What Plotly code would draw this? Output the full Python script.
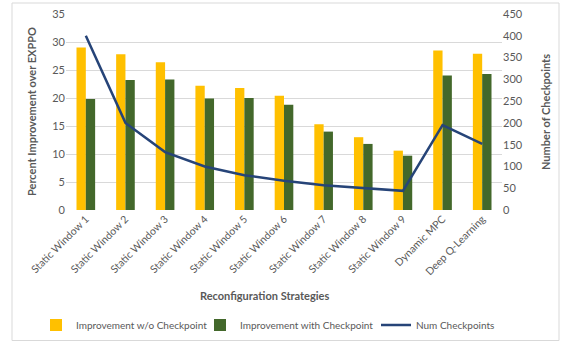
import plotly.graph_objects as go

categories = ["Static Window 1", "Static Window 2", "Static Window 3", "Static Window 4",
              "Static Window 5", "Static Window 6", "Static Window 7", "Static Window 8",
              "Static Window 9", "Dynamic MPC", "Deep Q-Learning"]
improve_wo = [29.0, 27.8, 26.4, 22.2, 21.8, 20.4, 15.3, 13.0, 10.6, 28.5, 27.9]
improve_with = [19.8, 23.2, 23.3, 19.9, 20.0, 18.8, 14.0, 11.8, 9.7, 24.0, 24.3]
num_checkpoints = [400, 200, 133, 100, 80, 67, 57, 50, 44, 195, 152]

FONT = "Lato"
GRAY = "#595959"

fig = go.Figure()
fig.add_trace(go.Bar(x=categories, y=improve_wo, name="Improvement w/o Checkpoint",
                     marker=dict(color="#FFC000", line=dict(width=0)), legend="legend"))
fig.add_trace(go.Bar(x=categories, y=improve_with, name="Improvement with Checkpoint",
                     marker=dict(color="#43682B", line=dict(width=0)), legend="legend2"))
fig.add_trace(go.Scatter(x=categories, y=num_checkpoints, name="Num Checkpoints",
                         mode="lines", line=dict(color="#264478", width=2.5), yaxis="y2",
                         legend="legend3"))

legend_y = (345 - 325) / 345


def make_legend(xpx):
    return dict(orientation="h", xref="container", yref="container",
                x=xpx / 563, xanchor="left", y=legend_y, yanchor="middle",
                font=dict(size=10, color=GRAY), itemwidth=30,
                bgcolor="rgba(0,0,0,0)")


fig.update_layout(
    width=563, height=345,
    margin=dict(l=66, r=61, t=14, b=135),
    paper_bgcolor="white", plot_bgcolor="white",
    font=dict(family=FONT, size=11, color=GRAY),
    barmode="group", bargap=0.53, bargroupgap=0,
    showlegend=True,
    legend=make_legend(36),
    legend2=make_legend(200),
    legend3=make_legend(376),
    xaxis=dict(tickangle=-45, tickfont=dict(size=10.5, color=GRAY), showgrid=False,
               showline=False, ticks="", automargin=False),
    yaxis=dict(range=[0, 35], dtick=5, gridcolor="#D9D9D9", gridwidth=1,
               tickfont=dict(size=11, color=GRAY), zeroline=False, ticks="",
               showline=False, automargin=False),
    yaxis2=dict(range=[0, 450], dtick=50, overlaying="y", side="right", showgrid=False,
                tickfont=dict(size=11, color=GRAY), zeroline=False, ticks="",
                automargin=False),
    annotations=[
        dict(text="<b>Percent Improvement over EXPPO</b>", xref="paper", yref="paper",
             x=(31 - 66) / 436, y=0.5, textangle=-90, showarrow=False,
             xanchor="center", yanchor="middle", font=dict(size=11, color=GRAY)),
        dict(text="<b>Number of Checkpoints</b>", xref="paper", yref="paper",
             x=(545 - 66) / 436, y=0.5, textangle=-90, showarrow=False,
             xanchor="center", yanchor="middle", font=dict(size=11, color=GRAY)),
        dict(text="<b>Reconfiguration Strategies</b>", xref="paper", yref="paper",
             x=(264 - 66) / 436, y=(210 - 295) / 196, showarrow=False,
             xanchor="center", yanchor="middle", font=dict(size=11, color=GRAY)),
    ],
    shapes=[
        dict(type="rect", xref="paper", yref="paper",
             x0=(12 - 66) / 436, x1=(559 - 66) / 436,
             y0=(210 - 340.5) / 196, y1=(210 - 3) / 196,
             line=dict(color="#D9D9D9", width=1), fillcolor="rgba(0,0,0,0)", layer="below"),
    ],
)

fig.write_html("out.html")
